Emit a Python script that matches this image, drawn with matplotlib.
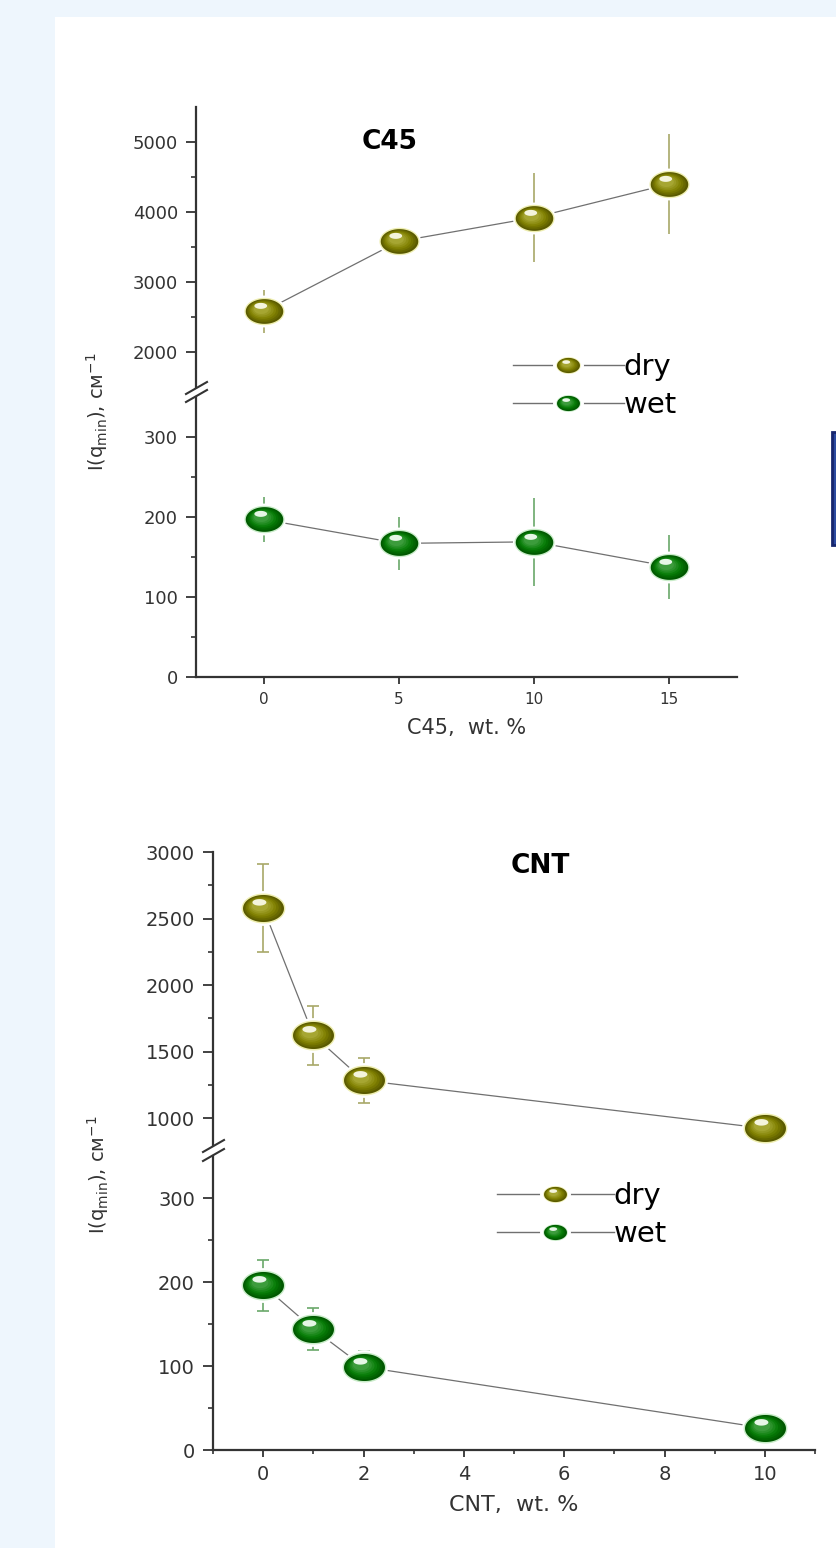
import numpy as np
import matplotlib
matplotlib.use('Agg')
import matplotlib.pyplot as plt
from matplotlib.path import Path
from matplotlib.patches import Rectangle
from matplotlib.lines import Line2D
from matplotlib.legend_handler import HandlerTuple
from matplotlib.colors import to_rgb
import matplotlib.ticker as mticker

# ---------------- data ----------------
c45_x = [0, 5, 10, 15]
c45_dry = [2580, 3580, 3920, 4400]
c45_dry_err = [310, 100, 630, 720]
c45_wet = [197, 167, 169, 138]
c45_wet_err = [28, 33, 55, 40]

cnt_x = [0, 1, 2, 10]
cnt_dry = [2580, 1625, 1285, 925]
cnt_dry_err = [330, 222, 170, 110]
cnt_wet = [196, 144, 99, 26]
cnt_wet_err = [30, 25, 19, 5]

series_labels = ['dry', 'wet']
c45_xticks = [0, 5, 10, 15]
c45_upper_yticks = [2000, 3000, 4000, 5000]
c45_lower_yticks = [0, 100, 200, 300]
cnt_xticks = [0, 2, 4, 6, 8, 10]
cnt_upper_yticks = [1000, 1500, 2000, 2500, 3000]
cnt_lower_yticks = [0, 100, 200, 300]
ylabel_text = r'I(q$_{\mathrm{min}}$), см$^{-1}$'

plt.rcParams['font.family'] = ['DejaVu Sans']

W, H = 836, 1548
fig = plt.figure(figsize=(W / 100, H / 100), dpi=100)
fig.patch.set_facecolor('#EEF6FD')
fig.patches.append(Rectangle((55 / W, 0), 1 - 55 / W, 1 - 17 / H, transform=fig.transFigure,
                             facecolor='white', edgecolor='none', zorder=-2))
fig.patches.append(Rectangle((832 / W, 1 - 545 / H), 12 / W, 113 / H, transform=fig.transFigure,
                             facecolor='#2c4aa0', edgecolor='#17266e', linewidth=2, zorder=-1))

AX_COL = '#333333'


def add_ax(l, r, t, b):
    ax = fig.add_axes([l / W, 1 - b / H, (r - l) / W, (b - t) / H])
    ax.set_facecolor('none')
    return ax


def ellipse_path(cx, cy, a, b, n=72):
    t = np.linspace(0, 2 * np.pi, n)
    verts = np.column_stack([cx + a * np.cos(t), cy + b * np.sin(t)])
    codes = [Path.MOVETO] + [Path.LINETO] * (n - 2) + [Path.CLOSEPOLY]
    return Path(verts, codes)


def mix(c1, c2, f):
    a, b = np.array(to_rgb(c1)), np.array(to_rgb(c2))
    return tuple(a + (b - a) * f)


SCHEMES = {
    'dry': dict(glow='#eeeeb0', rim='#5a5a00', body='#808000', light='#a6a632', hl='#f4f4dc',
                err='#a8a868', cap='#9a9a50'),
    'wet': dict(glow='#c8ecc8', rim='#005800', body='#067c06', light='#3c9c3c', hl='#e6f6e6',
                err='#6aa86a', cap='#5a9a5a'),
}


def sphere_layers(name, halo=1.15):
    sc = SCHEMES[name]
    b = 0.66
    layers = [(ellipse_path(0, 0, halo, b * halo * 1.12), 'white'),
              (ellipse_path(0, 0, 1.07, b * 1.11), sc['glow'])]
    N = 7
    d = np.array([-0.28, 0.22])
    for i in range(N):
        f = i / (N - 1)
        s = 1 - 0.6 * f
        c = (1 - s) * d
        col = mix(sc['rim'], sc['body'], min(1, f * 2.2)) if f < 0.45 else mix(sc['body'], sc['light'], (f - 0.45) / 0.55)
        layers.append((ellipse_path(c[0], c[1], s, s * b), col))
    layers.append((ellipse_path(-0.2, 0.3, 0.34, 0.16), sc['hl']))
    return [(p, col, np.max(np.abs(p.vertices))) for p, col in layers]


def draw_spheres(ax, x, y, name, ms, z=4):
    for i, (p, col, r) in enumerate(sphere_layers(name)):
        ax.plot(x, y, ls='none', marker=p, markersize=ms * r, markerfacecolor=col,
                markeredgecolor='none', markeredgewidth=0, zorder=z + i * 0.01, clip_on=False)


def legend_handle(name, ms):
    hs = [Line2D([], [], color='#707070', lw=1.0)]
    for p, col, r in sphere_layers(name, halo=1.35):
        hs.append(Line2D([], [], ls='none', marker=p, markersize=ms * r, markerfacecolor=col,
                         markeredgecolor='none', markeredgewidth=0))
    return tuple(hs)


def style(ax, bottom, ysize, xsize=None):
    ax.spines['top'].set_visible(False)
    ax.spines['right'].set_visible(False)
    ax.spines['left'].set_linewidth(1.6)
    ax.spines['left'].set_color(AX_COL)
    ax.tick_params(axis='y', which='major', direction='out', length=7, width=1.3,
                   labelsize=ysize, pad=6, colors=AX_COL)
    ax.tick_params(axis='y', which='minor', direction='out', length=3.5, width=1.2, colors=AX_COL)
    if bottom:
        ax.spines['bottom'].set_linewidth(1.6)
        ax.spines['bottom'].set_color(AX_COL)
        ax.tick_params(axis='x', which='major', direction='out', length=5, width=1.3,
                       labelsize=xsize, pad=6, colors=AX_COL)
        ax.tick_params(axis='x', which='minor', direction='out', length=3, width=1.2, colors=AX_COL)
    else:
        ax.spines['bottom'].set_visible(False)
        ax.tick_params(axis='x', which='both', bottom=False, labelbottom=False)


def break_marks(x0, y_top, y_bot):
    for yy in (y_top, y_bot):
        fig.add_artist(Line2D([(x0 - 10) / W, (x0 + 11) / W], [1 - (yy + 6) / H, 1 - (yy - 6) / H],
                              transform=fig.transFigure, color=AX_COL, lw=1.5))


def draw_series(ax, x, y, err, name, ms, caps):
    sc = SCHEMES[name]
    ax.plot(x, y, color='#707070', lw=0.9, zorder=2)
    ax.errorbar(x, y, yerr=err, fmt='none', ecolor=sc['err'], elinewidth=1.2,
                capsize=4.5 if caps else 0, capthick=1.2, zorder=1.5)
    draw_spheres(ax, x, y, name, ms)


HMAP = {tuple: HandlerTuple(ndivide=1, pad=0)}

# ---------------- C45 panel ----------------
a1u = add_ax(196, 737, 107, 387)
a1l = add_ax(196, 737, 397, 677)
for ax in (a1u, a1l):
    ax.set_xlim(-2.5, 17.5)
a1u.set_ylim(1500, 5500)
a1l.set_ylim(0, 350)
draw_series(a1u, c45_x, c45_dry, c45_dry_err, 'dry', 27, caps=False)
draw_series(a1l, c45_x, c45_wet, c45_wet_err, 'wet', 27, caps=False)
a1u.set_yticks(c45_upper_yticks)
a1u.yaxis.set_minor_locator(mticker.FixedLocator([2500, 3500, 4500]))
a1l.set_yticks(c45_lower_yticks)
a1l.yaxis.set_minor_locator(mticker.FixedLocator([50, 150, 250]))
a1l.set_xticks(c45_xticks)
style(a1u, False, 13)
style(a1l, True, 13, 11)
a1l.set_xlabel('C45,  wt. %', fontsize=15, color=AX_COL, labelpad=8)
break_marks(196, 388, 396)
fig.text(390 / W, 1 - 142 / H, 'C45', fontsize=19, fontweight='bold', ha='center', va='center')
fig.text(97 / W, 1 - 412 / H, ylabel_text, rotation=90, fontsize=14, ha='center', va='center', color=AX_COL)
fig.legend([legend_handle('dry', 16.5), legend_handle('wet', 16.5)], series_labels,
           handler_map=HMAP,
           loc='center left', bbox_to_anchor=(513 / W, 1 - 386 / H), frameon=False,
           fontsize=21, handlelength=3.8, handletextpad=0.0, borderpad=0, borderaxespad=0,
           labelspacing=0.35, numpoints=1)

# ---------------- CNT panel ----------------
a2u = add_ax(213, 815, 852, 1145)
a2l = add_ax(213, 815, 1156, 1450)
for ax in (a2u, a2l):
    ax.set_xlim(-1, 11)
a2u.set_ylim(800, 3000)
a2l.set_ylim(0, 350)
draw_series(a2u, cnt_x, cnt_dry, cnt_dry_err, 'dry', 29.5, caps=True)
draw_series(a2l, cnt_x, cnt_wet, cnt_wet_err, 'wet', 29.5, caps=True)
a2u.set_yticks(cnt_upper_yticks)
a2u.yaxis.set_minor_locator(mticker.FixedLocator([1250, 1750, 2250, 2750]))
a2l.set_yticks(cnt_lower_yticks)
a2l.yaxis.set_minor_locator(mticker.FixedLocator([50, 150, 250]))
a2l.set_xticks(cnt_xticks)
a2l.xaxis.set_minor_locator(mticker.FixedLocator([-1, 1, 3, 5, 7, 9, 11]))
style(a2u, False, 14)
style(a2l, True, 14, 14)
a2l.set_xlabel('CNT,  wt. %', fontsize=16, color=AX_COL, labelpad=8)
break_marks(213, 1146, 1155)
fig.text(540 / W, 1 - 866 / H, 'CNT', fontsize=19, fontweight='bold', ha='center', va='center')
fig.text(98 / W, 1 - 1175 / H, ylabel_text, rotation=90, fontsize=14, ha='center', va='center', color=AX_COL)
fig.legend([legend_handle('dry', 16.5), legend_handle('wet', 16.5)], series_labels,
           handler_map=HMAP,
           loc='center left', bbox_to_anchor=(497 / W, 1 - 1215 / H), frameon=False,
           fontsize=21, handlelength=4.0, handletextpad=0.0, borderpad=0, borderaxespad=0,
           labelspacing=0.35, numpoints=1)

fig.savefig('out.png', dpi=100, facecolor=fig.get_facecolor())
